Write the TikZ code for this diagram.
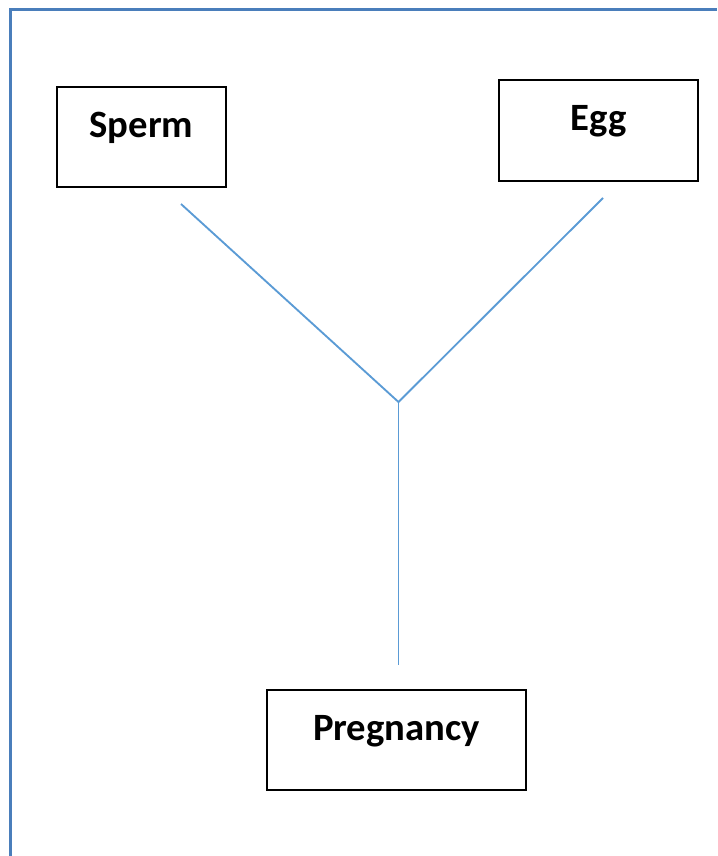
\documentclass[tikz,border=0pt]{standalone}
\usepackage{fontspec}
\setmainfont{Carlito}
\usetikzlibrary{positioning}
\definecolor{framecol}{HTML}{4A7EBB}
\definecolor{linkcol}{HTML}{5B9BD5}

\begin{document}
\begin{tikzpicture}[
  x=0.75pt, y=-0.75pt,
  box/.style={
    draw, line width=1.5pt, minimum height=75pt,
    font=\bfseries\fontsize{29}{34}\selectfont,
    text height=20pt, text depth=20pt
  },
  link/.style={draw=linkcol, line width=1.4pt}
]
\useasboundingbox (0,0) rectangle (717,856);

% outer frame
\draw[framecol, line width=2pt] (10.5,856) |- (717,9.5);

% boxes
\node[box, minimum width=126.75pt] (sperm) at (141.5,137) {Sperm};
\node[box, minimum width=149.25pt] (egg) at (598.5,130.5) {Egg};
\node[box, minimum width=194.25pt] (preg) at (396.5,740) {Pregnancy};

% connector ends
\coordinate (spermend) at (181,204);
\coordinate (eggend) at (603,198);
\coordinate (join) at (398.5,402);
\coordinate (pregend) at (398.5,665);

% connectors
\draw[link] (spermend) -- (join) -- (eggend);
\draw[link] (join) -- (pregend);

\end{tikzpicture}
\end{document}
